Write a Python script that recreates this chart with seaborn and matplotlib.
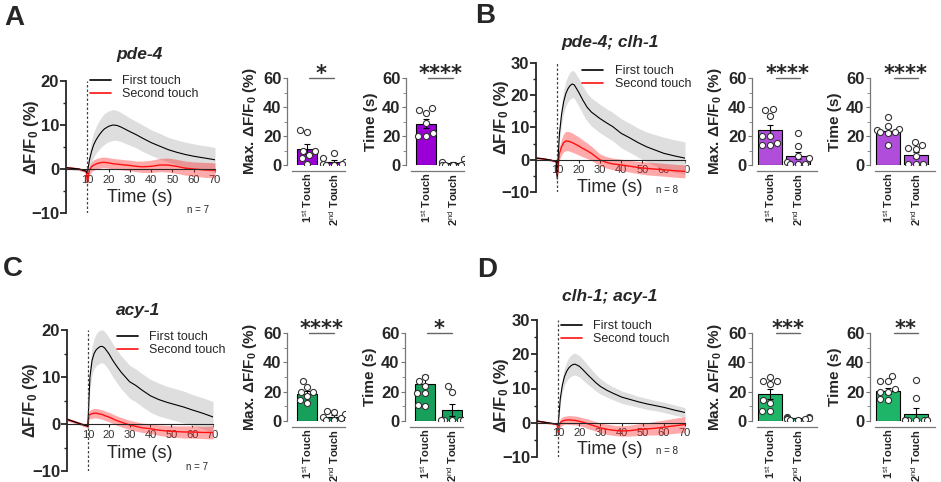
# Calcium imaging: first vs second touch responses (panels A-D)

import numpy as np
import pandas as pd
import matplotlib
matplotlib.use("Agg")
import matplotlib.pyplot as plt
import seaborn as sns
from matplotlib.lines import Line2D
from matplotlib.ticker import MultipleLocator

# ---- time course data (mean and SEM of dF/F0, %) ----
time_s = np.array([0, 2, 4, 6, 8, 9.5, 10, 10.5, 11, 12, 13, 14, 15, 16, 17, 18, 20,
                   22, 24, 26, 28, 30, 33, 36, 40, 44, 48, 52, 56, 60, 65, 70])

a_first_mean = [0.3, 0.2, 0.1, 0.0, -0.3, -0.5, -1.0, 0.5, 2.0, 4.0, 5.5, 6.5, 7.3, 8.0, 8.6, 9.1, 9.7,
                10.0, 9.9, 9.5, 9.0, 8.5, 7.8, 7.0, 6.0, 5.2, 4.4, 3.8, 3.3, 2.9, 2.5, 2.1]
a_first_sem = [0.3, 0.3, 0.3, 0.3, 0.3, 0.3, 0.5, 1.5, 2.0, 2.5, 2.8, 3.0, 3.2, 3.3, 3.4, 3.5, 3.5,
               3.5, 3.4, 3.3, 3.2, 3.1, 3.0, 3.0, 2.9, 2.9, 2.8, 2.8, 2.8, 2.8, 2.8, 2.8]
a_second_mean = [0.3, 0.2, 0.1, 0.0, -0.3, -0.5, -3.0, -1.5, -0.3, 0.5, 0.9, 1.1, 1.3, 1.4, 1.5, 1.5, 1.4,
                 1.2, 1.1, 1.0, 0.9, 0.8, 0.6, 0.5, 0.6, 0.9, 0.9, 0.6, 0.2, 0.0, -0.2, -0.3]
a_second_sem = [0.3, 0.3, 0.3, 0.3, 0.3, 0.3, 1.0, 1.0, 1.0, 1.1, 1.2, 1.2, 1.2, 1.2, 1.2, 1.2, 1.2,
                1.2, 1.2, 1.2, 1.2, 1.2, 1.2, 1.3, 1.4, 1.5, 1.6, 1.6, 1.6, 1.6, 1.7, 1.7]

b_first_mean = [0.5, 0.4, 0.2, 0.0, -0.3, -0.5, -6.0, 2.0, 8.0, 14.0, 18.0, 20.5, 22.0, 23.0, 23.5, 23.2, 21.0,
                18.5, 16.3, 14.8, 13.8, 12.8, 11.5, 10.3, 8.2, 6.8, 5.3, 4.0, 3.0, 2.0, 1.2, 0.5]
b_first_sem = [0.3, 0.3, 0.3, 0.3, 0.3, 0.3, 1.0, 1.5, 2.5, 3.0, 3.5, 3.8, 4.0, 4.2, 4.2, 4.2, 4.3,
               4.3, 4.3, 4.3, 4.4, 4.4, 4.4, 4.4, 4.5, 4.5, 4.5, 4.6, 4.8, 5.0, 5.0, 5.0]
b_second_mean = [0.5, 0.4, 0.2, 0.0, -0.3, -0.5, -5.0, -1.0, 2.0, 4.0, 5.3, 5.8, 5.8, 5.6, 5.3, 5.0, 4.3,
                 3.5, 2.8, 2.0, 1.0, 0.0, -0.8, -1.3, -1.6, -2.0, -2.4, -2.7, -2.9, -3.1, -3.4, -3.6]
b_second_sem = [0.3, 0.3, 0.3, 0.3, 0.3, 0.3, 1.0, 1.5, 2.0, 2.5, 2.8, 3.0, 3.0, 3.0, 3.0, 2.9, 2.8,
                2.6, 2.4, 2.2, 2.0, 1.8, 1.8, 1.8, 1.8, 1.8, 1.9, 2.0, 2.0, 2.0, 2.0, 2.0]

c_first_mean = [1.0, 0.7, 0.4, 0.1, -0.2, -0.4, -0.5, 5.0, 10.0, 13.5, 15.0, 15.8, 16.2, 16.5, 16.5, 16.2, 15.0,
                13.5, 12.2, 11.0, 10.0, 9.0, 8.2, 7.2, 6.0, 5.2, 4.6, 4.1, 3.6, 3.0, 2.3, 1.5]
c_first_sem = [0.3, 0.3, 0.3, 0.3, 0.3, 0.3, 0.5, 1.5, 2.5, 3.0, 3.2, 3.4, 3.5, 3.5, 3.5, 3.5, 3.5,
               3.5, 3.5, 3.5, 3.5, 3.5, 3.5, 3.5, 3.5, 3.5, 3.4, 3.4, 3.4, 3.3, 3.3, 3.3]
c_second_mean = [1.0, 0.7, 0.4, 0.1, -0.2, -0.4, -0.5, 2.0, 2.0, 2.2, 2.3, 2.3, 2.2, 2.1, 2.0, 1.8, 1.5,
                 1.1, 0.7, 0.4, 0.1, -0.2, -0.5, -0.8, -1.0, -1.3, -1.5, -1.6, -1.7, -1.7, -1.8, -1.8]
c_second_sem = [0.3, 0.3, 0.3, 0.3, 0.3, 0.3, 0.5, 0.8, 0.9, 1.0, 1.0, 1.0, 1.0, 1.0, 1.0, 1.0, 1.0,
                1.0, 1.0, 1.0, 1.0, 1.0, 1.0, 1.0, 1.0, 1.1, 1.2, 1.2, 1.3, 1.3, 1.3, 1.4]

d_first_mean = [0.5, 0.3, 0.1, -0.1, -0.3, -0.4, -0.5, 3.0, 7.0, 11.0, 13.5, 15.0, 16.0, 16.6, 17.0, 17.1, 16.5,
                15.3, 14.0, 12.8, 11.6, 10.6, 9.5, 8.6, 7.5, 6.8, 6.1, 5.5, 5.0, 4.5, 3.7, 3.0]
d_first_sem = [0.3, 0.3, 0.3, 0.3, 0.3, 0.3, 0.5, 1.0, 1.5, 2.0, 2.5, 2.8, 3.0, 3.1, 3.2, 3.2, 3.1,
               3.0, 2.8, 2.6, 2.4, 2.2, 2.0, 1.9, 1.8, 1.7, 1.6, 1.6, 1.5, 1.5, 1.5, 1.4]
d_second_mean = [0.5, 0.3, 0.1, -0.1, -0.3, -0.4, -3.0, -1.0, 0.0, 0.5, 0.7, 0.8, 0.8, 0.8, 0.7, 0.7, 0.4,
                 0.1, -0.3, -0.7, -1.1, -1.5, -1.9, -2.2, -2.4, -2.3, -2.0, -1.8, -1.6, -1.3, -0.9, -0.5]
d_second_sem = [0.3, 0.3, 0.3, 0.3, 0.3, 0.3, 1.0, 1.2, 1.2, 1.2, 1.2, 1.2, 1.3, 1.3, 1.3, 1.3, 1.3,
                1.3, 1.4, 1.4, 1.4, 1.4, 1.5, 1.5, 1.5, 1.6, 1.7, 1.8, 2.0, 2.1, 2.2, 2.3]

# ---- bar data: individual animals, bar mean and SEM ----
touch_labels = ["1$^{\\rm st}$ Touch", "2$^{\\rm nd}$ Touch"]

a_max_first = [24, 23, 10, 10, 7, 5, 1]
a_max_second = [8, 4.5, 2.3, 0.5, 0.5, 0.3, 0.3]
a_max_mean = [11, 2.2]
a_max_sem = [3.5, 1.1]
a_time_first = [38, 39, 36, 29, 20, 22, 20]
a_time_second = [4, 2, 1, 0.3, 0.3, 0.3, 0.3]
a_time_mean = [28.5, 1.2]
a_time_sem = [3.0, 0.6]

b_max_first = [38, 38.5, 34, 20, 14, 14, 15, 20]
b_max_second = [22, 13, 6, 5, 2, 1, 0.5, 1]
b_max_mean = [24, 6.5]
b_max_sem = [3.8, 2.5]
b_time_first = [33, 27, 25, 24, 23, 23, 22, 14]
b_time_second = [16, 14, 12, 11, 6, 1, 0.5, 0.5]
b_time_mean = [23.5, 7]
b_time_sem = [1.8, 2.3]

c_max_first = [27, 23, 20, 20, 17, 14, 12]
c_max_second = [7, 6, 5, 3, 2, 1, 1]
c_max_mean = [18.5, 3]
c_max_sem = [2.0, 1.0]
c_time_first = [30, 27, 24, 19, 19, 11, 10]
c_time_second = [24, 20, 1, 1, 1, 1, 1]
c_time_mean = [25, 7.3]
c_time_sem = [6.5, 4.0]

d_max_first = [30, 27, 27, 25, 14, 12, 7, 7]
d_max_second = [3, 2.5, 2, 2, 1.5, 1.5, 1, 1]
d_max_mean = [18.5, 2]
d_max_sem = [3.5, 0.3]
d_time_first = [31, 27, 27, 22, 20, 20, 15, 14]
d_time_second = [28, 16, 1, 1, 1, 1, 1, 1]
d_time_mean = [20.5, 5]
d_time_sem = [2.0, 4.0]

# ---- figure ----
W, H = 941, 482
sns.set_style("ticks")
plt.rcParams["font.family"] = ["Liberation Sans", "DejaVu Sans"]
plt.rcParams["mathtext.fontset"] = "custom"
plt.rcParams["mathtext.rm"] = "Liberation Sans"
plt.rcParams["mathtext.bf"] = "Liberation Sans:bold"
plt.rcParams["mathtext.it"] = "Liberation Sans:italic"

fig = plt.figure(figsize=(W / 100, H / 100), dpi=100)


def px_box(x0, y0, x1, y1):
    return [x0 / W, 1 - y1 / H, (x1 - x0) / W, (y1 - y0) / H]


def fig_text(x, y, s, **kw):
    fig.text(x / W, 1 - y / H, s, **kw)


def draw_trace(box, ymax, m1, s1, m2, s2, leg_anchor):
    ax = fig.add_axes(px_box(*box))
    m1, s1, m2, s2 = map(np.asarray, (m1, s1, m2, s2))
    ax.fill_between(time_s, m1 - s1, m1 + s1, color="#dedede", lw=0)
    ax.fill_between(time_s, m2 - s2, m2 + s2, color="#ff2020", alpha=0.38, lw=0)
    sns.lineplot(x=time_s, y=m2, color="#ff1010", lw=1.0, ax=ax, legend=False)
    sns.lineplot(x=time_s, y=m1, color="black", lw=0.8, ax=ax, legend=False)
    ax.axvline(10, color="#444444", ls=(0, (2, 1.6)), lw=0.9)
    ax.set_xlim(0, 70)
    ax.set_ylim(-10, ymax)
    sns.despine(ax=ax)
    ax.spines["bottom"].set_position(("data", 0))
    ax.spines["left"].set_linewidth(1.3)
    ax.set_xticks(range(10, 71, 10))
    ax.set_yticks(range(-10, ymax + 1, 10))
    ax.yaxis.set_minor_locator(MultipleLocator(5))
    ax.tick_params(axis="x", labelsize=8, length=2.5, width=0.8, pad=1.5, labelcolor="#333333")
    ax.tick_params(axis="y", which="major", labelsize=12, length=4, width=1.3, pad=1)
    ax.tick_params(axis="y", which="minor", length=2, width=1)
    for lab in ax.get_yticklabels():
        lab.set_fontweight("bold")
    handles = [Line2D([0], [0], color="black", lw=1.2), Line2D([0], [0], color="#ff1010", lw=1.2)]
    ax.legend(handles, ["First touch", "Second touch"], loc="upper left", bbox_to_anchor=leg_anchor,
              frameon=False, fontsize=9, handlelength=1.7, handletextpad=0.9, labelspacing=0.1,
              borderaxespad=0, borderpad=0)
    return ax


def draw_bars(box, gap, right, width, pts1, pts2, means, sems, color, ylabel, stars, sig_span):
    ax = fig.add_axes(px_box(*box))
    sns.barplot(x=touch_labels, y=means, color=color, width=width, edgecolor="black",
                linewidth=0.8, errorbar=None, saturation=1, ax=ax)
    ax.errorbar([0, 1], means, yerr=sems, fmt="none", ecolor="black", elinewidth=0.8,
                capsize=2.5, capthick=0.8, zorder=3)
    pts = pd.DataFrame({"touch": [touch_labels[0]] * len(pts1) + [touch_labels[1]] * len(pts2),
                        "value": list(pts1) + list(pts2)})
    sns.swarmplot(data=pts, x="touch", y="value", color="white", edgecolor="#333333",
                  linewidth=0.8, size=4.4, ax=ax, zorder=4, warn_thresh=1)
    ax.set_xlim(-gap, right)
    ax.set_ylim(0, 60)
    sns.despine(ax=ax)
    ax.spines["bottom"].set_position(("outward", 4))
    ax.spines["bottom"].set_bounds(-gap + 0.18, right)
    for sp in ("left", "bottom"):
        ax.spines[sp].set_color("#777777")
        ax.spines[sp].set_linewidth(0.9)
    ax.set_yticks([0, 20, 40, 60])
    ax.yaxis.set_minor_locator(MultipleLocator(10))
    ax.tick_params(axis="y", which="major", labelsize=12, length=3, color="#777777", pad=1)
    ax.tick_params(axis="y", which="minor", length=2, color="#777777")
    ax.tick_params(axis="x", length=0, pad=1.5)
    ax.set_xticks([0, 1])
    ax.set_xticklabels(touch_labels, rotation=90, fontsize=8, fontweight="bold")
    for lab in ax.get_yticklabels():
        lab.set_fontweight("bold")
    ax.set_xlabel("")
    ax.set_ylabel(ylabel, fontsize=11, fontweight="bold", labelpad=3)
    ax.plot(sig_span, [60.3, 60.3], color="#666666", lw=1, clip_on=False)
    ax.text(sum(sig_span) / 2, 58.8, stars, ha="center", va="baseline", fontsize=15,
            fontweight="bold", family="DejaVu Sans", clip_on=False)
    return ax


max_label = "Max. ΔF/F$_\\mathbf{0}$ (%)"
time_label = "Time (s)"

panels = [
    # letter, trace box, ymax, trace data, legend anchor, bar boxes, bar layout, colors, stars
    dict(letter="A", letter_xy=(14, 18), title="pde-4", title_xy=(140, 55),
         trace_box=(66, 81, 215, 213), ymax=20,
         trace=(a_first_mean, a_first_sem, a_second_mean, a_second_sem), leg=(0.16, 1.045),
         ylab_xy=(32, 137), time_xy=(140, 198), n_text="n = 7", n_xy=(198, 210),
         bars_y=(78, 165), bar_x=(287, 406), unit=27, gap=0.74, right=1.42, width=0.72,
         sig=(0.07, 1.0), color="#9a00d6",
         max_data=(a_max_first, a_max_second, a_max_mean, a_max_sem),
         time_data=(a_time_first, a_time_second, a_time_mean, a_time_sem), stars=("*", "****")),
    dict(letter="B", letter_xy=(485, 16), title="pde-4; clh-1", title_xy=(610, 43),
         trace_box=(536, 63, 685, 192), ymax=30,
         trace=(b_first_mean, b_first_sem, b_second_mean, b_second_sem), leg=(0.31, 0.985),
         ylab_xy=(502, 117), time_xy=(610, 188), n_text="n = 8", n_xy=(667, 190),
         bars_y=(78, 165), bar_x=(752, 870), unit=28, gap=0.64, right=1.68, width=0.88,
         sig=(0.2, 1.07), color="#b04ddb",
         max_data=(b_max_first, b_max_second, b_max_mean, b_max_sem),
         time_data=(b_time_first, b_time_second, b_time_mean, b_time_sem), stars=("****", "****")),
    dict(letter="C", letter_xy=(13, 269), title="acy-1", title_xy=(138, 310),
         trace_box=(67, 330, 213, 471), ymax=20,
         trace=(c_first_mean, c_first_sem, c_second_mean, c_second_sem), leg=(0.34, 0.993),
         ylab_xy=(30, 400), time_xy=(140, 453), n_text="n = 7", n_xy=(197, 467),
         bars_y=(333, 421), bar_x=(287, 405), unit=27, gap=0.74, right=1.42, width=0.72,
         sig=(0.07, 1.0), color="#16a05c",
         max_data=(c_max_first, c_max_second, c_max_mean, c_max_sem),
         time_data=(c_time_first, c_time_second, c_time_mean, c_time_sem), stars=("****", "*")),
    dict(letter="D", letter_xy=(487, 270), title="clh-1; acy-1", title_xy=(610, 297),
         trace_box=(537, 320, 685, 457), ymax=30,
         trace=(d_first_mean, d_first_sem, d_second_mean, d_second_sem), leg=(0.16, 1.0),
         ylab_xy=(502, 395), time_xy=(610, 450), n_text="n = 8", n_xy=(667, 451),
         bars_y=(333, 421), bar_x=(752, 870), unit=28, gap=0.64, right=1.68, width=0.88,
         sig=(0.2, 1.07), color="#1fb568",
         max_data=(d_max_first, d_max_second, d_max_mean, d_max_sem),
         time_data=(d_time_first, d_time_second, d_time_mean, d_time_sem), stars=("***", "**")),
]

for p in panels:
    draw_trace(p["trace_box"], p["ymax"], *p["trace"], p["leg"])
    fig_text(*p["letter_xy"], p["letter"], fontsize=20, fontweight="bold", ha="center", va="center")
    fig_text(*p["title_xy"], p["title"], fontsize=12.5, fontweight="bold", style="italic",
             ha="center", va="center")
    fig_text(*p["ylab_xy"], "ΔF/F$_\\mathbf{0}$ (%)", fontsize=12, fontweight="bold", rotation=90,
             ha="center", va="center")
    fig_text(*p["time_xy"], "Time (s)", fontsize=13, ha="center", va="center")
    fig_text(*p["n_xy"], p["n_text"], fontsize=7, ha="center", va="center")

    y0, y1 = p["bars_y"]
    span = (p["gap"] + p["right"]) * p["unit"]
    for x0, data, ylab, stars in zip(p["bar_x"], (p["max_data"], p["time_data"]),
                                     (max_label, time_label), p["stars"]):
        draw_bars((x0, y0, x0 + span, y1), p["gap"], p["right"], p["width"], *data,
                  p["color"], ylab, stars, p["sig"])

fig.savefig("out.png", dpi=100)
